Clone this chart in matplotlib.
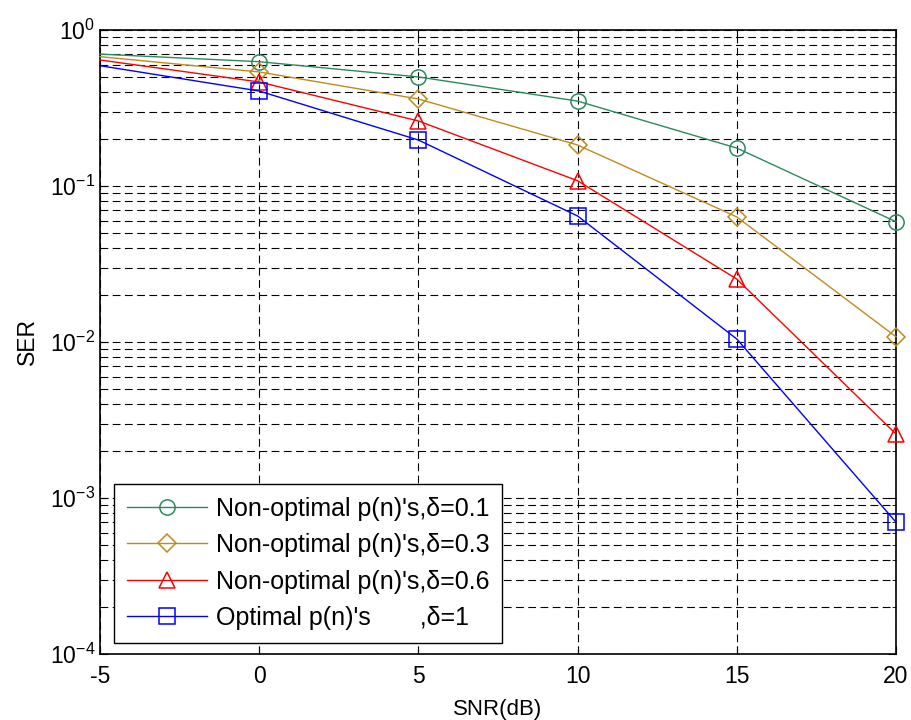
import numpy as np
import matplotlib
matplotlib.use("Agg")
import matplotlib.pyplot as plt
from matplotlib.ticker import LogLocator, NullFormatter

plt.rcParams['font.family'] = ['Liberation Sans', 'DejaVu Sans']
plt.rcParams['mathtext.fontset'] = 'custom'
plt.rcParams['mathtext.rm'] = 'Liberation Sans'
plt.rcParams['mathtext.it'] = 'Liberation Sans:italic'

snr = [-5, 0, 5, 10, 15, 20]
ser_d01 = [0.70, 0.626, 0.50, 0.35, 0.175, 0.059]
ser_d03 = [0.674, 0.538, 0.361, 0.183, 0.0633, 0.0108]
ser_d06 = [0.642, 0.464, 0.261, 0.108, 0.0253, 0.00257]
ser_opt = [0.59, 0.406, 0.197, 0.0642, 0.01045, 0.0007]

labels = ["Non-optimal p(n)'s,δ=0.1", "Non-optimal p(n)'s,δ=0.3",
          "Non-optimal p(n)'s,δ=0.6", "Optimal p(n)'s       ,δ=1"]
colors = ['#2b8a5c', '#c08a1e', '#ff0000', '#0000ff']
markers = ['o', 'D', '^', 's']
msizes = [11, 9, 12, 11]

xticks = [-5, 0, 5, 10, 15, 20]
yticklabels = ['$10^{-4}$', '$10^{-3}$', '$10^{-2}$', '$10^{-1}$', '$10^{0}$']

fig = plt.figure(figsize=(9.11, 7.2), dpi=100)
ax = fig.add_axes([0.1098, 0.0917, 0.8737, 0.8667])

for y, lab, c, m, ms in zip([ser_d01, ser_d03, ser_d06, ser_opt], labels, colors, markers, msizes):
    ax.semilogy(snr, y, color=c, marker=m, markersize=ms, markerfacecolor='none',
                markeredgecolor=c, markeredgewidth=1.1, linewidth=1.0, label=lab,
                markevery=[1, 2, 3, 4, 5], clip_on=False, zorder=3)

ax.set_xlim(-5, 20)
ax.set_ylim(1e-4, 1)
ax.set_xticks(xticks)
ax.set_xticklabels([str(v) for v in xticks])
ax.set_yticks([1e-4, 1e-3, 1e-2, 1e-1, 1])
ax.set_yticklabels(yticklabels)
ax.yaxis.set_minor_locator(LogLocator(base=10, subs=np.arange(2, 10), numticks=20))
ax.yaxis.set_minor_formatter(NullFormatter())

ax.grid(True, which='major', axis='both', color='black', linestyle=(0, (7, 4)), linewidth=0.8)
ax.grid(True, which='minor', axis='y', color='black', linestyle=(0, (7, 4)), linewidth=0.8)
ax.tick_params(which='both', direction='in', top=True, right=True, labelsize=16.5)
ax.tick_params(which='major', length=6)
ax.tick_params(which='minor', length=3)
ax.tick_params(axis='x', pad=8)
for s in ax.spines.values():
    s.set_linewidth(1.2)

ax.set_xlabel('SNR(dB)', fontsize=16, labelpad=8)
ax.set_ylabel('SER', fontsize=16.5, labelpad=8)

leg = ax.legend(loc='lower left', bbox_to_anchor=(0.018, 0.018), fontsize=18,
                frameon=True, fancybox=False, edgecolor='black', framealpha=1,
                handlelength=3.2, handletextpad=0.35, borderpad=0.5, labelspacing=0.5,
                borderaxespad=0)
leg.get_frame().set_linewidth(1.0)

fig.savefig('out.png', dpi=100, facecolor='white')
